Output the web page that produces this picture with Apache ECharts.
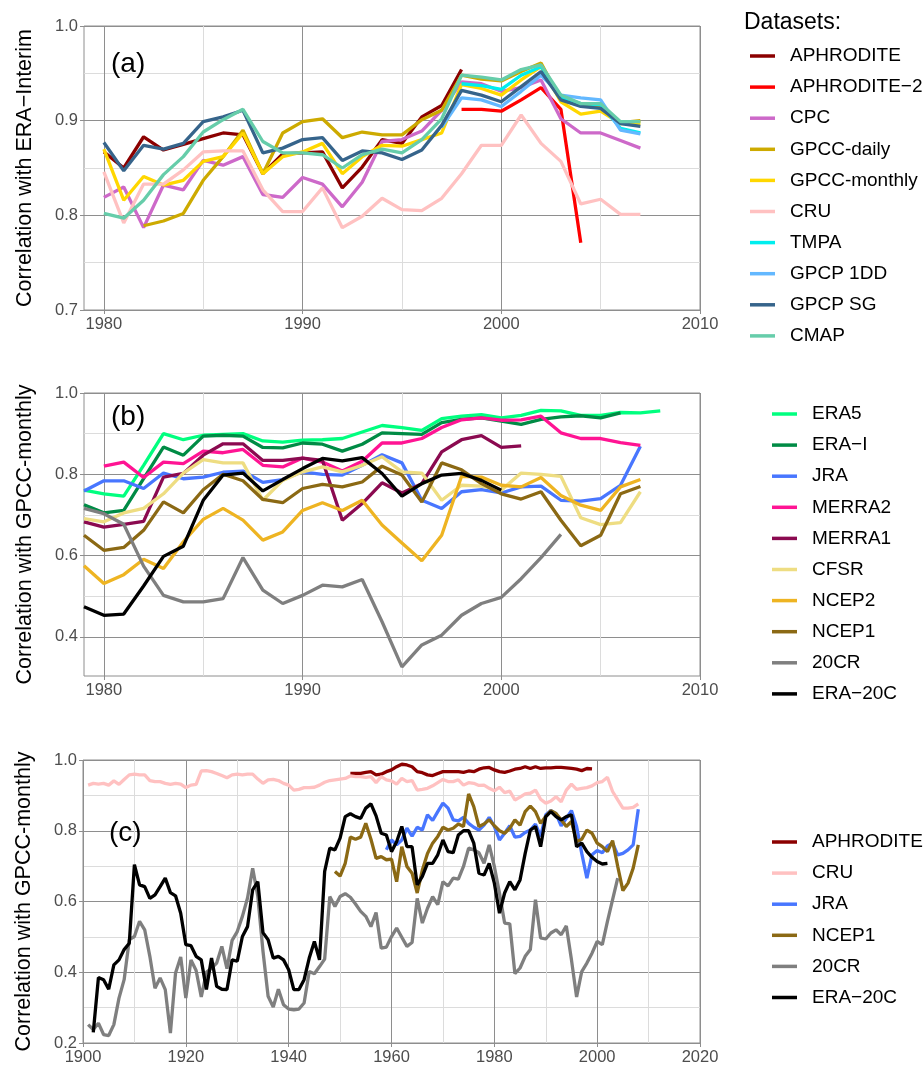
<!DOCTYPE html>
<html>
<head>
<meta charset="utf-8">
<script src="https://cdn.jsdelivr.net/npm/echarts@6/dist/echarts.min.js"></script>
<style>
  html, body { margin: 0; padding: 0; background: #fff; }
  #main { width: 924px; height: 1069px; }
</style>
</head>
<body>
<div id="main"></div>
<script>
// ---- panel (a): correlation with ERA-Interim (each array starts at the year given in panelA)
const aAphrodite = [0.867, 0.850, 0.883, 0.869, 0.875, 0.881, 0.887, 0.885, 0.844, 0.865, 0.866, 0.867, 0.829, 0.851, 0.880, 0.876, 0.904, 0.916, 0.954];
const aAphrodite2 = [0.912, 0.912, 0.910, 0.922, 0.935, 0.912, 0.771];
const aCPC = [0.819, 0.830, 0.787, 0.832, 0.827, 0.858, 0.853, 0.862, 0.822, 0.819, 0.840, 0.833, 0.809, 0.835, 0.878, 0.880, 0.889, 0.911, 0.941, 0.939, 0.931, 0.935, 0.943, 0.902, 0.887, 0.887, 0.879, 0.871];
const aGPCCdaily = [0.789, 0.794, 0.802, 0.837, 0.862, 0.890, 0.844, 0.887, 0.899, 0.902, 0.882, 0.888, 0.885, 0.885, 0.901, 0.911, 0.948, 0.944, 0.942, 0.952, 0.961, 0.922, 0.916, 0.915, 0.898, 0.900];
const aGPCCmonthly = [0.870, 0.816, 0.841, 0.832, 0.837, 0.857, 0.862, 0.887, 0.844, 0.862, 0.867, 0.876, 0.844, 0.862, 0.874, 0.873, 0.880, 0.887, 0.938, 0.934, 0.927, 0.943, 0.957, 0.920, 0.907, 0.910, 0.897, 0.897];
const aCRU = [0.846, 0.792, 0.833, 0.833, 0.848, 0.867, 0.868, 0.868, 0.827, 0.804, 0.804, 0.829, 0.787, 0.799, 0.818, 0.806, 0.805, 0.818, 0.844, 0.874, 0.874, 0.906, 0.876, 0.857, 0.812, 0.817, 0.801, 0.801];
const aTMPA = [0.939, 0.937, 0.933, 0.948, 0.957, 0.925, 0.918, 0.917, 0.892, 0.887];
const aGPCP1DD = [0.893, 0.924, 0.922, 0.915, 0.931, 0.948, 0.927, 0.924, 0.922, 0.890, 0.886];
const aGPCPSG = [0.877, 0.847, 0.874, 0.870, 0.876, 0.899, 0.904, 0.911, 0.866, 0.871, 0.880, 0.882, 0.858, 0.868, 0.866, 0.859, 0.869, 0.895, 0.932, 0.927, 0.920, 0.936, 0.952, 0.922, 0.915, 0.913, 0.897, 0.894];
const aCMAP = [0.802, 0.797, 0.816, 0.843, 0.862, 0.888, 0.901, 0.912, 0.878, 0.866, 0.866, 0.864, 0.850, 0.864, 0.870, 0.866, 0.880, 0.902, 0.948, 0.946, 0.943, 0.954, 0.959, 0.927, 0.918, 0.918, 0.899, 0.899];

// ---- panel (b): reanalyses vs GPCC-monthly
const bERA5 = [0.761, 0.752, 0.746, 0.822, 0.900, 0.885, 0.896, 0.898, 0.900, 0.882, 0.879, 0.884, 0.885, 0.888, 0.904, 0.920, 0.915, 0.908, 0.937, 0.943, 0.947, 0.939, 0.945, 0.957, 0.956, 0.945, 0.945, 0.952, 0.951, 0.956];
const bERAI = [0.725, 0.705, 0.711, 0.789, 0.867, 0.847, 0.894, 0.896, 0.894, 0.866, 0.865, 0.877, 0.874, 0.857, 0.874, 0.902, 0.900, 0.898, 0.927, 0.935, 0.939, 0.931, 0.923, 0.935, 0.941, 0.944, 0.939, 0.951];
const bJRA = [0.759, 0.784, 0.784, 0.765, 0.803, 0.789, 0.793, 0.805, 0.808, 0.780, 0.787, 0.806, 0.800, 0.798, 0.822, 0.848, 0.828, 0.736, 0.716, 0.757, 0.762, 0.754, 0.769, 0.771, 0.736, 0.734, 0.740, 0.773, 0.869];
const bMERRA2 = [0.820, 0.830, 0.792, 0.830, 0.826, 0.857, 0.853, 0.861, 0.822, 0.818, 0.840, 0.830, 0.808, 0.832, 0.877, 0.877, 0.888, 0.915, 0.934, 0.939, 0.933, 0.934, 0.943, 0.902, 0.888, 0.888, 0.878, 0.871];
const bMERRA1 = [0.683, 0.670, 0.677, 0.684, 0.793, 0.802, 0.847, 0.875, 0.875, 0.834, 0.834, 0.840, 0.834, 0.687, 0.728, 0.779, 0.754, 0.777, 0.855, 0.885, 0.895, 0.866, 0.870];
const bCFSR = [0.691, 0.683, 0.705, 0.716, 0.752, 0.803, 0.836, 0.828, 0.828, 0.736, 0.785, 0.806, 0.818, 0.806, 0.822, 0.843, 0.806, 0.803, 0.736, 0.773, 0.771, 0.761, 0.803, 0.800, 0.795, 0.693, 0.676, 0.681, 0.757];
const bNCEP2 = [0.575, 0.531, 0.553, 0.591, 0.568, 0.634, 0.689, 0.716, 0.687, 0.638, 0.658, 0.711, 0.730, 0.711, 0.736, 0.675, 0.631, 0.587, 0.650, 0.795, 0.793, 0.773, 0.769, 0.792, 0.748, 0.724, 0.711, 0.769, 0.787];
const bNCEP1 = [0.650, 0.613, 0.620, 0.662, 0.732, 0.705, 0.762, 0.800, 0.784, 0.738, 0.730, 0.765, 0.775, 0.769, 0.781, 0.820, 0.798, 0.732, 0.828, 0.811, 0.777, 0.752, 0.739, 0.757, 0.687, 0.624, 0.650, 0.752, 0.770];
const b20CR = [0.716, 0.703, 0.677, 0.574, 0.502, 0.486, 0.486, 0.494, 0.595, 0.515, 0.482, 0.502, 0.527, 0.523, 0.541, 0.437, 0.326, 0.380, 0.404, 0.453, 0.482, 0.497, 0.543, 0.595, 0.652];
const bERA20C = [0.474, 0.453, 0.456, 0.525, 0.598, 0.623, 0.736, 0.798, 0.803, 0.759, 0.787, 0.814, 0.839, 0.833, 0.841, 0.802, 0.746, 0.777, 0.798, 0.802, 0.785, 0.761];

// ---- panel (c): 20th-century records vs GPCC-monthly
const cAphrodite = [0.962, 0.962, 0.962, 0.965, 0.967, 0.958, 0.960, 0.967, 0.972, 0.981,
  0.988, 0.986, 0.981, 0.967, 0.964, 0.958, 0.956, 0.962, 0.967, 0.967,
  0.967, 0.967, 0.965, 0.969, 0.967, 0.974, 0.978, 0.979, 0.972, 0.967,
  0.965, 0.969, 0.974, 0.976, 0.981, 0.976, 0.981, 0.976, 0.978, 0.978,
  0.979, 0.979, 0.978, 0.976, 0.974, 0.970, 0.976, 0.975];
const cCRU = [0.929, 0.934, 0.932, 0.934, 0.929, 0.941, 0.931, 0.945, 0.958, 0.960,
  0.958, 0.958, 0.942, 0.939, 0.939, 0.934, 0.931, 0.934, 0.932, 0.922,
  0.929, 0.931, 0.969, 0.970, 0.967, 0.962, 0.956, 0.950, 0.958, 0.960,
  0.958, 0.960, 0.960, 0.946, 0.934, 0.944, 0.945, 0.942, 0.934, 0.929,
  0.915, 0.917, 0.922, 0.922, 0.923, 0.929, 0.937, 0.942, 0.944, 0.946,
  0.948, 0.955, 0.953, 0.953, 0.951, 0.953, 0.936, 0.953, 0.944, 0.941,
  0.932, 0.948, 0.939, 0.942, 0.915, 0.917, 0.920, 0.927, 0.936, 0.945,
  0.939, 0.939, 0.944, 0.929, 0.936, 0.934, 0.928, 0.929, 0.920, 0.913,
  0.923, 0.908, 0.912, 0.887, 0.895, 0.904, 0.906, 0.915, 0.889, 0.878,
  0.884, 0.896, 0.882, 0.915, 0.932, 0.917, 0.920, 0.922, 0.927, 0.936,
  0.939, 0.951, 0.911, 0.887, 0.864, 0.864, 0.866, 0.876];
const cJRA = [0.746, 0.774, 0.760, 0.774, 0.807, 0.785, 0.810, 0.802, 0.845, 0.829,
  0.854, 0.878, 0.864, 0.831, 0.828, 0.838, 0.821, 0.810, 0.802, 0.816,
  0.838, 0.812, 0.774, 0.793, 0.814, 0.782, 0.784, 0.795, 0.802, 0.819,
  0.784, 0.845, 0.857, 0.848, 0.814, 0.835, 0.857, 0.812, 0.736, 0.666,
  0.732, 0.744, 0.738, 0.757, 0.765, 0.732, 0.736, 0.746, 0.760, 0.861];
const cNCEP1 = [0.685, 0.672, 0.708, 0.782, 0.776, 0.782, 0.821, 0.776, 0.722, 0.727,
  0.718, 0.720, 0.656, 0.755, 0.699, 0.680, 0.624, 0.689, 0.736, 0.765,
  0.784, 0.810, 0.802, 0.807, 0.819, 0.812, 0.904, 0.868, 0.812, 0.819,
  0.831, 0.814, 0.800, 0.793, 0.807, 0.831, 0.816, 0.854, 0.870, 0.854,
  0.821, 0.840, 0.857, 0.849, 0.831, 0.812, 0.826, 0.769, 0.776, 0.802,
  0.793, 0.765, 0.755, 0.741, 0.772, 0.699, 0.631, 0.652, 0.694, 0.760];
const c20CR = [0.252, 0.238, 0.256, 0.224, 0.221, 0.252, 0.327, 0.379, 0.492, 0.501,
  0.544, 0.520, 0.445, 0.355, 0.384, 0.351, 0.228, 0.398, 0.443, 0.327,
  0.435, 0.405, 0.330, 0.400, 0.412, 0.426, 0.473, 0.410, 0.490, 0.515,
  0.558, 0.610, 0.694, 0.614, 0.460, 0.332, 0.302, 0.352, 0.308, 0.296,
  0.294, 0.296, 0.313, 0.402, 0.396, 0.416, 0.437, 0.614, 0.586, 0.614,
  0.622, 0.612, 0.593, 0.572, 0.558, 0.529, 0.569, 0.468, 0.471, 0.501,
  0.525, 0.499, 0.473, 0.484, 0.609, 0.539, 0.581, 0.614, 0.591, 0.656,
  0.644, 0.666, 0.663, 0.699, 0.751, 0.746, 0.738, 0.708, 0.760, 0.699,
  0.624, 0.539, 0.537, 0.396, 0.412, 0.445, 0.464, 0.605, 0.497, 0.494,
  0.511, 0.520, 0.506, 0.531, 0.435, 0.330, 0.402, 0.426, 0.454, 0.487,
  0.478, 0.544, 0.605, 0.666];
const cERA20C = [0.230, 0.385, 0.379, 0.352, 0.421, 0.435, 0.464, 0.482, 0.704, 0.647,
  0.642, 0.609, 0.619, 0.642, 0.666, 0.625, 0.616, 0.567, 0.478, 0.475,
  0.445, 0.435, 0.351, 0.440, 0.360, 0.352, 0.351, 0.435, 0.431, 0.501,
  0.529, 0.633, 0.656, 0.512, 0.492, 0.440, 0.445, 0.435, 0.407, 0.351,
  0.351, 0.379, 0.440, 0.487, 0.435, 0.685, 0.751, 0.746, 0.779, 0.840,
  0.848, 0.840, 0.835, 0.864, 0.876, 0.842, 0.793, 0.788, 0.741, 0.769,
  0.812, 0.755, 0.755, 0.647, 0.671, 0.708, 0.708, 0.732, 0.774, 0.741,
  0.738, 0.788, 0.800, 0.800, 0.765, 0.680, 0.675, 0.708, 0.652, 0.567,
  0.624, 0.656, 0.633, 0.661, 0.736, 0.802, 0.812, 0.755, 0.840, 0.854,
  0.840, 0.831, 0.840, 0.845, 0.755, 0.765, 0.741, 0.725, 0.713, 0.706,
  0.708];

// tick / grid positions
const abGridX = [1980, 1985, 1990, 1995, 2000, 2005, 2010];
const abLabelX = [1980, 1990, 2000, 2010];
const aGridY = [0.7, 0.75, 0.8, 0.85, 0.9, 0.95, 1.0];
const aLabelY = [0.7, 0.8, 0.9, 1.0];
const bGridY = [0.4, 0.5, 0.6, 0.7, 0.8, 0.9, 1.0];
const bLabelY = [0.4, 0.6, 0.8, 1.0];
const cGridX = [1900, 1910, 1920, 1930, 1940, 1950, 1960, 1970, 1980, 1990, 2000, 2010, 2020];
const cLabelX = [1900, 1920, 1940, 1960, 1980, 2000, 2020];
const cGridY = [0.2, 0.3, 0.4, 0.5, 0.6, 0.7, 0.8, 0.9, 1.0];
const cLabelY = [0.2, 0.4, 0.6, 0.8, 1.0];

const colors = {
  'APHRODITE': '#8B0000', 'APHRODITE−2': '#FF0000', 'CPC': '#CD69C9',
  'GPCC-daily': '#CDAA00', 'GPCC-monthly': '#FFD700', 'CRU': '#FFC1C1',
  'TMPA': '#00EEEE', 'GPCP 1DD': '#63B8FF', 'GPCP SG': '#36648B', 'CMAP': '#66CDAA',
  'ERA5': '#00FF7F', 'ERA−I': '#008B45', 'JRA': '#4876FF', 'MERRA2': '#FF1493',
  'MERRA1': '#8B0A50', 'CFSR': '#EEDD82', 'NCEP2': '#EEB422', 'NCEP1': '#8B6914',
  '20CR': '#7F7F7F', 'ERA−20C': '#000000'
};

// [name, start year, values]
const panelA = [
  ['APHRODITE', 1980, aAphrodite], ['APHRODITE−2', 1998, aAphrodite2], ['CPC', 1980, aCPC],
  ['GPCC-daily', 1982, aGPCCdaily], ['GPCC-monthly', 1980, aGPCCmonthly], ['CRU', 1980, aCRU],
  ['TMPA', 1998, aTMPA], ['GPCP 1DD', 1997, aGPCP1DD], ['GPCP SG', 1980, aGPCPSG], ['CMAP', 1980, aCMAP]
];
const panelB = [
  ['ERA5', 1979, bERA5], ['ERA−I', 1979, bERAI], ['JRA', 1979, bJRA], ['MERRA2', 1980, bMERRA2],
  ['MERRA1', 1979, bMERRA1], ['CFSR', 1979, bCFSR], ['NCEP2', 1979, bNCEP2], ['NCEP1', 1979, bNCEP1],
  ['20CR', 1979, b20CR], ['ERA−20C', 1979, bERA20C]
];
const panelC = [
  ['APHRODITE', 1952, cAphrodite], ['CRU', 1901, cCRU], ['JRA', 1959, cJRA],
  ['NCEP1', 1949, cNCEP1], ['20CR', 1901, c20CR], ['ERA−20C', 1902, cERA20C]
];

const FONT = '"Liberation Sans", Arial, sans-serif';
const MAJOR = '#8e8e8e', MINOR = '#dcdcdc';

// main axis: labels + grid lines (major/minor colours alternate)
function axis(gridIndex, min, max, gridVals, labelVals, fmt, extra) {
  return Object.assign({
    type: 'value', gridIndex: gridIndex, min: min, max: max,
    axisLine: { show: false },
    axisTick: { show: false, customValues: gridVals },
    axisLabel: {
      customValues: labelVals, color: '#4d4d4d', fontSize: 16.5, fontFamily: FONT,
      margin: 6, formatter: fmt
    },
    splitLine: { show: true, lineStyle: { color: [MAJOR, MINOR], width: 1 } }
  }, extra || {});
}
// second axis on the same grid, only for the small outer tick marks at labelled values
function tickAxis(gridIndex, min, max, labelVals, position) {
  return {
    type: 'value', gridIndex: gridIndex, min: min, max: max, position: position, offset: 0,
    axisLine: { show: false },
    axisTick: { show: true, customValues: labelVals, length: 4, lineStyle: { color: MAJOR, width: 1 } },
    axisLabel: { show: false },
    splitLine: { show: false }
  };
}
const fmtY = v => v.toFixed(1);
const fmtX = v => String(Math.round(v));
const yName = (text) => ({
  name: text, nameLocation: 'middle', nameGap: 48,
  nameTextStyle: { color: '#000', fontSize: 21.5, fontFamily: FONT }
});

const series = [];
[panelA, panelB, panelC].forEach(function (panel, gi) {
  panel.forEach(function (s) {
    series.push({
      name: s[0], type: 'line', xAxisIndex: gi, yAxisIndex: gi,
      data: s[2].map((v, i) => [s[1] + i, v]),
      showSymbol: false, symbol: 'none', silent: true,
      color: colors[s[0]],
      lineStyle: { width: 3.3, color: colors[s[0]] }
    });
  });
});

const legendBase = {
  orient: 'vertical', icon: 'rect', itemWidth: 25, itemHeight: 3.5, itemGap: 11.1,
  textStyle: { fontSize: 19, fontFamily: FONT, color: '#000', lineHeight: 20, padding: [0, 0, 0, 10] },
  selectedMode: false
};

const gridBase = { show: true, borderColor: MAJOR, borderWidth: 1, backgroundColor: '#fff', outerBoundsMode: 'none' };
const labelStyle = { fontSize: 28, fontWeight: 'normal', fontFamily: FONT, color: '#000' };

const chart = echarts.init(document.getElementById('main'));
chart.setOption({
  animation: false,
  backgroundColor: '#fff',
  title: [
    { text: 'Datasets:', left: 739, top: 6, textStyle: { fontSize: 23, fontWeight: 'normal', fontFamily: FONT, color: '#000' } },
    { text: '(a)', left: 106, top: 45, textStyle: labelStyle },
    { text: '(b)', left: 106, top: 398, textStyle: labelStyle },
    { text: '(c)', left: 104, top: 814, textStyle: labelStyle }
  ],
  legend: [
    Object.assign({}, legendBase, { left: 745, top: 41, data: panelA.map(s => s[0]) }),
    Object.assign({}, legendBase, { left: 767, top: 399, data: panelB.map(s => s[0]) }),
    Object.assign({}, legendBase, { left: 767, top: 827, data: panelC.map(s => s[0]) })
  ],
  grid: [
    Object.assign({ left: 84, top: 26, width: 616, height: 284 }, gridBase),
    Object.assign({ left: 84, top: 393, width: 616, height: 283 }, gridBase),
    Object.assign({ left: 83, top: 760, width: 617, height: 283 }, gridBase)
  ],
  xAxis: [
    axis(0, 1979, 2010, abGridX, abLabelX, fmtX, { position: 'bottom' }),
    axis(1, 1979, 2010, abGridX, abLabelX, fmtX, { position: 'bottom' }),
    axis(2, 1900, 2020, cGridX, cLabelX, fmtX, { position: 'bottom' }),
    tickAxis(0, 1979, 2010, abLabelX, 'bottom'),
    tickAxis(1, 1979, 2010, abLabelX, 'bottom'),
    tickAxis(2, 1900, 2020, cLabelX, 'bottom')
  ],
  yAxis: [
    axis(0, 0.7, 1.0, aGridY, aLabelY, fmtY, Object.assign({ position: 'left' }, yName('Correlation with ERA−Interim'))),
    axis(1, 0.3036, 1.0, bGridY, bLabelY, fmtY, Object.assign({ position: 'left' }, yName('Correlation with GPCC-monthly'))),
    axis(2, 0.2, 1.0, cGridY, cLabelY, fmtY, Object.assign({ position: 'left' }, yName('Correlation with GPCC-monthly'))),
    tickAxis(0, 0.7, 1.0, aLabelY, 'left'),
    tickAxis(1, 0.3036, 1.0, bLabelY, 'left'),
    tickAxis(2, 0.2, 1.0, cLabelY, 'left')
  ],
  series: series
});
</script>
</body>
</html>
